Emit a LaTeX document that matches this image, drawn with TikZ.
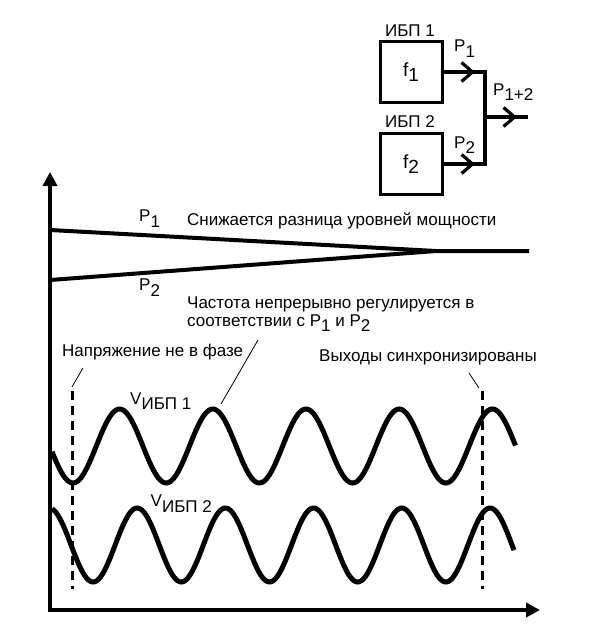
\documentclass[tikz,border=0pt]{standalone}
\usepackage{fontspec}
\setmainfont{Liberation Sans}
\usetikzlibrary{arrows.meta, calc, positioning}
\newcommand{\low}[1]{\raisebox{-5.5pt}{#1}}

\begin{document}
\begin{tikzpicture}[x=1pt,y=-1pt,
  box/.style={draw, line width=3pt, minimum width=62pt, minimum height=61pt, inner sep=0pt, font=\fontsize{19}{20}\selectfont},
  lab/.style={font=\fontsize{17}{18}\selectfont, inner sep=0pt},
  txt/.style={font=\fontsize{17}{17.5}\selectfont, inner sep=0pt, anchor=base west},
  bus/.style={line width=3.2pt},
  chev/.style={line width=3.2pt, -{Straight Barb[length=11pt,width=19pt]}},
  axarrow/.style={line width=4pt, -{Triangle[length=14pt,width=14pt]}},
  pline/.style={line width=4pt},
  wave/.style={line width=5pt},
  sync/.style={line width=3pt, dash pattern=on 9pt off 6pt},
  lead/.style={line width=0.8pt}]
    \useasboundingbox (0,0) rectangle (594,633);
    % ИБП
        \node[box] (u1) at (411,72) {f\low{1}};
        \node[box] (u2) at (411,164) {f\low{2}};
        \node[lab, anchor=base] (n1) at (410,36) {ИБП 1};
        \node[lab, anchor=base] (n2) at (410,127) {ИБП 2};
        \coordinate (j1) at (485,72);
        \coordinate (j2) at (485,164);
        \coordinate (jo) at (485,117);
        \coordinate (out) at (528,117);
        \coordinate (a1) at (475,72);
        \coordinate (a2) at (475,164);
        \coordinate (ao) at (517,117);
        \draw[bus] (u1.east) -- (j1) -- (j2) -- (u2.east);
        \draw[bus] (jo) -- (out);
        \draw[chev] (u1.east) -- (a1);
        \draw[chev] (u2.east) -- (a2);
        \draw[chev] (jo) -- (ao);
        \node[lab, anchor=base west] (p1) at (454,51.7) {P\low{1}};
        \node[lab, anchor=base west] (p2) at (454,148.3) {P\low{2}};
        \node[lab, anchor=base west] (p12) at (493,95) {P\low{1+2}};
    % assi
        \coordinate (o) at (50,610);
        \coordinate (ytop) at (50,172);
        \coordinate (xend) at (540,610);
        \draw[axarrow] ($(o)+(0,2)$) -- (ytop);
        \draw[axarrow] ($(o)+(-2,0)$) -- (xend);
    % potenze
        \coordinate (s1) at (50,230);
        \coordinate (s2) at (50,280);
        \coordinate (m) at (436,251);
        \coordinate (pe) at (529,251);
        \draw[pline] (s1) -- (m) -- (pe);
        \draw[pline] (s2) -- (m);
        \node[txt] (q1) at (139,221.6) {P\low{1}};
        \node[txt] (q2) at (139,290.5) {P\low{2}};
        \node[txt] (t1) at (187,225) {Снижается разница уровней мощности};
        \node[txt] (t2) at (187,308.8) {Частота непрерывно регулируется в};
        \node[txt] (t3) at (187,326) {соответствии с P\low{1} и P\low{2}};
    % tensioni
        \draw[wave] plot[domain=52:515.5, samples=240, variable=\t] (\t, {446+37*cos((\t-73)/93.2*360)});
        \draw[wave] plot[domain=52:514, samples=240, variable=\t] (\t, {545-37*cos((\t-49)/88.2*360)});
        \node[txt] (v1) at (130,404) {V\low{ИБП 1}};
        \node[txt] (v2) at (150.5,506.5) {V\low{ИБП 2}};
    % fase
        \coordinate (d1) at (72,391);
        \coordinate (d1b) at (72,589);
        \coordinate (d2) at (482,391);
        \coordinate (d2b) at (482,589);
        \draw[sync] (d1) -- (d1b);
        \draw[sync] (d2) -- (d2b);
        \node[txt] (t4) at (62,356) {Напряжение не в фазе};
        \node[txt] (t5) at (319,361.7) {Выходы синхронизированы};
        \coordinate (c1) at (83,368);
        \coordinate (c2) at (258,340);
        \coordinate (c3) at (221,404);
        \coordinate (c4) at (469,373);
        \draw[lead] (c1) -- (72,387);
        \draw[lead] (c2) -- (c3);
        \draw[lead] (c4) -- (479,388);
\end{tikzpicture}
\end{document}
